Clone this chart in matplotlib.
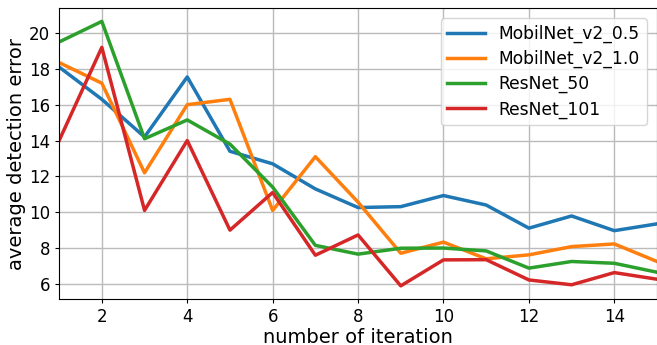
import numpy as np
import matplotlib
matplotlib.use('Agg')
import matplotlib.pyplot as plt

iterations = np.arange(1, 16)
mobilnet_05 = [18.1, 16.3, 14.2, 17.55, 13.4, 12.7, 11.3, 10.26, 10.31, 10.93, 10.4, 9.11, 9.79, 8.97, 9.35]
mobilnet_10 = [18.35, 17.2, 12.2, 16.0, 16.3, 10.1, 13.1, 10.56, 7.71, 8.33, 7.4, 7.62, 8.08, 8.23, 7.25]
resnet_50 = [19.5, 20.65, 14.1, 15.15, 13.8, 11.4, 8.15, 7.66, 7.99, 8.0, 7.84, 6.88, 7.25, 7.15, 6.65]
resnet_101 = [14.0, 19.2, 10.1, 14.0, 9.0, 11.1, 7.6, 8.73, 5.89, 7.34, 7.35, 6.22, 5.95, 6.63, 6.26]

series = [('MobilNet_v2_0.5', mobilnet_05), ('MobilNet_v2_1.0', mobilnet_10),
          ('ResNet_50', resnet_50), ('ResNet_101', resnet_101)]

fig = plt.figure(figsize=(6.57, 3.45), dpi=100)
ax = fig.add_axes([0.09, 0.133, 0.91, 0.844])

for name, vals in series:
    ax.plot(iterations, vals, linewidth=2.5, label=name)

ax.set_xlim(1, 15)
ax.set_ylim(5.15, 21.4)
ax.set_xticks([2, 4, 6, 8, 10, 12, 14])
ax.set_yticks([6, 8, 10, 12, 14, 16, 18, 20])
ax.tick_params(labelsize=12, length=3)
ax.grid(True, color='#bbbbbb', linewidth=1)
ax.set_xlabel('number of iteration', fontsize=14, labelpad=1)
ax.set_ylabel('average detection error', fontsize=14, labelpad=2)
ax.legend(loc='upper right', fontsize=12.3, labelspacing=0.4, borderpad=0.4,
          handlelength=2.2, handletextpad=0.8, borderaxespad=0.6)

fig.savefig('out.png', dpi=100)
